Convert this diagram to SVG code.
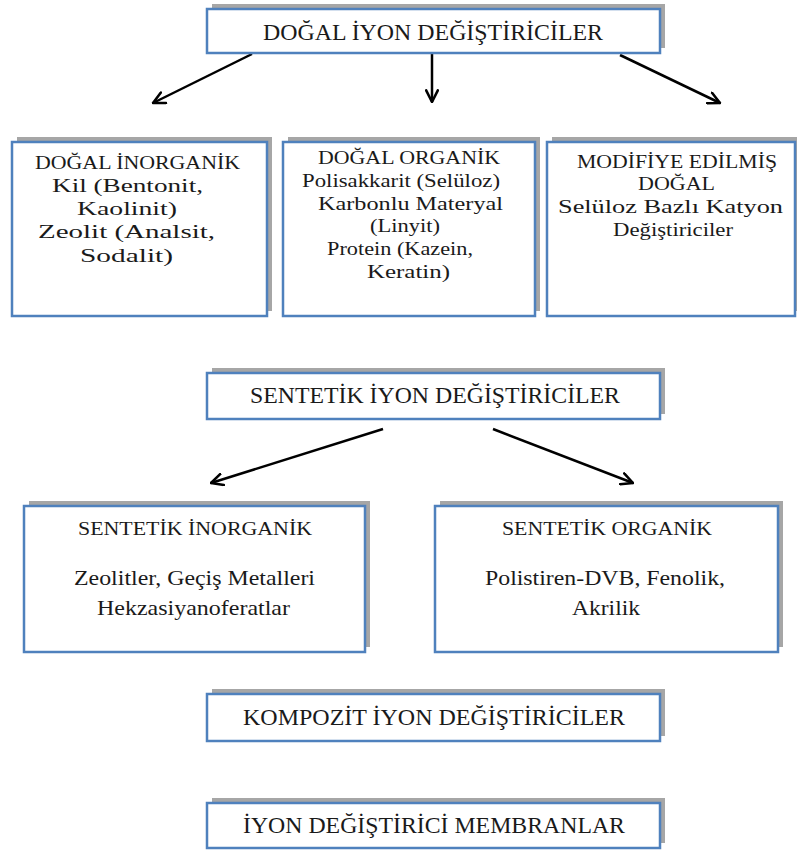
<svg xmlns="http://www.w3.org/2000/svg" width="797" height="852" viewBox="0 0 797 852">
<style>
.sh{fill:#a6a6a6}
.bx{fill:#ffffff;stroke:#4f81bd;stroke-width:2.5}
text{font-family:"Liberation Serif","Times New Roman",serif;fill:#1a1a1a;text-anchor:middle}
.t{font-size:23px}
.h{font-size:18px}
.b{font-size:19px}
.c{font-size:21px}
.ar{stroke:#000;stroke-width:2.5;fill:none}
</style>
<defs>
<marker id="ah" viewBox="0 0 12 12" refX="11" refY="6" markerWidth="14" markerHeight="14" markerUnits="userSpaceOnUse" orient="auto">
<path d="M1,1 L11,6 L1,11" fill="none" stroke="#000" stroke-width="2.2" stroke-linecap="round" stroke-linejoin="round"/>
</marker>
</defs>
<rect width="797" height="852" fill="#ffffff"/>
<g id="connectors">
<line class="ar" x1="252" y1="54" x2="153" y2="103" marker-end="url(#ah)"/>
<line class="ar" x1="432" y1="54" x2="432" y2="102" marker-end="url(#ah)"/>
<line class="ar" x1="620" y1="55" x2="720" y2="103" marker-end="url(#ah)"/>
<line class="ar" x1="383" y1="429" x2="211" y2="483" marker-end="url(#ah)"/>
<line class="ar" x1="493" y1="429" x2="633" y2="483" marker-end="url(#ah)"/>
</g>
<g id="n-dogal">
<rect class="sh" x="212" y="4" width="453" height="44"/>
<rect class="bx" x="207" y="9" width="453" height="44"/>
<text class="t" x="433" y="40" textLength="340" lengthAdjust="spacingAndGlyphs">DOĞAL İYON DEĞİŞTİRİCİLER</text>
</g>
<g id="n-dogal-inorganik">
<rect class="sh" x="17" y="137" width="255" height="174"/>
<rect class="bx" x="12" y="142" width="255" height="174"/>
<text class="h" x="137.5" y="169" textLength="205" lengthAdjust="spacingAndGlyphs">DOĞAL İNORGANİK</text>
<text class="b" x="127.5" y="192" textLength="151" lengthAdjust="spacingAndGlyphs">Kil (Bentonit,</text>
<text class="b" x="127" y="215" textLength="100" lengthAdjust="spacingAndGlyphs">Kaolinit)</text>
<text class="b" x="126.5" y="238" textLength="177" lengthAdjust="spacingAndGlyphs">Zeolit (Analsit,</text>
<text class="b" x="126.5" y="262" textLength="93" lengthAdjust="spacingAndGlyphs">Sodalit)</text>
</g>
<g id="n-dogal-organik">
<rect class="sh" x="288" y="137" width="252" height="174"/>
<rect class="bx" x="283" y="142" width="252" height="174"/>
<text class="h" x="409" y="164" textLength="182" lengthAdjust="spacingAndGlyphs">DOĞAL ORGANİK</text>
<text class="b" x="401" y="187" textLength="198" lengthAdjust="spacingAndGlyphs">Polisakkarit (Selüloz)</text>
<text class="b" x="410.5" y="210" textLength="185" lengthAdjust="spacingAndGlyphs">Karbonlu Materyal</text>
<text class="b" x="405" y="232" textLength="70" lengthAdjust="spacingAndGlyphs">(Linyit)</text>
<text class="b" x="400" y="255" textLength="146" lengthAdjust="spacingAndGlyphs">Protein (Kazein,</text>
<text class="b" x="408.5" y="278" textLength="83" lengthAdjust="spacingAndGlyphs">Keratin)</text>
</g>
<g id="n-modifiye">
<rect class="sh" x="552" y="137" width="248" height="174"/>
<rect class="bx" x="547" y="142" width="248" height="174"/>
<text class="h" x="677" y="168" textLength="200" lengthAdjust="spacingAndGlyphs">MODİFİYE EDİLMİŞ</text>
<text class="h" x="676.5" y="190" textLength="77" lengthAdjust="spacingAndGlyphs">DOĞAL</text>
<text class="b" x="670.5" y="213" textLength="225" lengthAdjust="spacingAndGlyphs">Selüloz Bazlı Katyon</text>
<text class="b" x="673" y="236" textLength="120" lengthAdjust="spacingAndGlyphs">Değiştiriciler</text>
</g>
<g id="n-sentetik">
<rect class="sh" x="212" y="368" width="453" height="46"/>
<rect class="bx" x="207" y="373" width="453" height="46"/>
<text class="t" x="435" y="403" textLength="370" lengthAdjust="spacingAndGlyphs">SENTETİK İYON DEĞİŞTİRİCİLER</text>
</g>
<g id="n-sentetik-inorganik">
<rect class="sh" x="29" y="501" width="341" height="146"/>
<rect class="bx" x="24" y="506" width="341" height="146"/>
<text class="h" x="195" y="535" textLength="234" lengthAdjust="spacingAndGlyphs">SENTETİK İNORGANİK</text>
<text class="c" x="194.5" y="585" textLength="241" lengthAdjust="spacingAndGlyphs">Zeolitler, Geçiş Metalleri</text>
<text class="c" x="193.5" y="615" textLength="193" lengthAdjust="spacingAndGlyphs">Hekzasiyanoferatlar</text>
</g>
<g id="n-sentetik-organik">
<rect class="sh" x="440" y="501" width="343" height="146"/>
<rect class="bx" x="435" y="506" width="343" height="146"/>
<text class="h" x="607" y="535" textLength="210" lengthAdjust="spacingAndGlyphs">SENTETİK ORGANİK</text>
<text class="c" x="605" y="585" textLength="240" lengthAdjust="spacingAndGlyphs">Polistiren-DVB, Fenolik,</text>
<text class="c" x="606" y="615" textLength="68" lengthAdjust="spacingAndGlyphs">Akrilik</text>
</g>
<g id="n-kompozit">
<rect class="sh" x="212" y="689" width="453" height="47"/>
<rect class="bx" x="207" y="694" width="453" height="47"/>
<text class="t" x="434" y="725" textLength="382" lengthAdjust="spacingAndGlyphs">KOMPOZİT İYON DEĞİŞTİRİCİLER</text>
</g>
<g id="n-membran">
<rect class="sh" x="212" y="798" width="453" height="45"/>
<rect class="bx" x="207" y="803" width="453" height="45"/>
<text class="t" x="434" y="833" textLength="382" lengthAdjust="spacingAndGlyphs">İYON DEĞİŞTİRİCİ MEMBRANLAR</text>
</g>
</svg>
